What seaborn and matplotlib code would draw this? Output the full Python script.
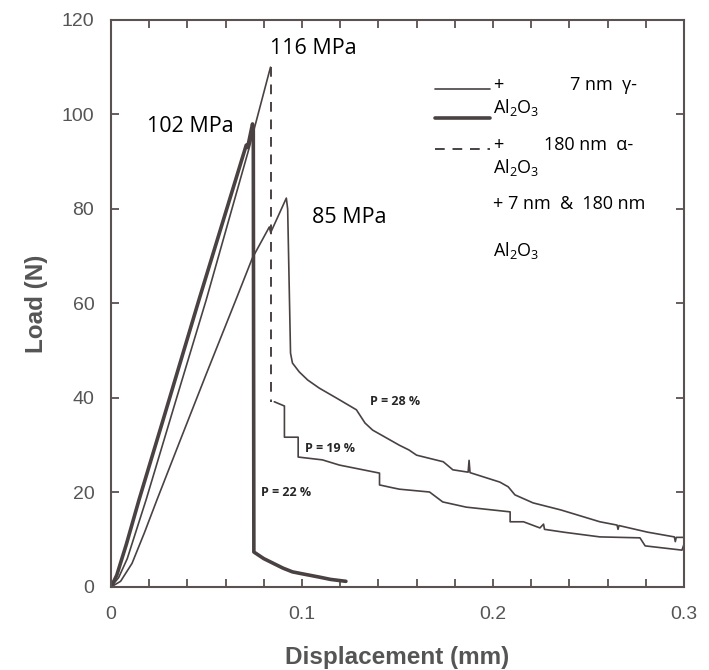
import numpy as np
import pandas as pd
import matplotlib
matplotlib.use("Agg")
import matplotlib.pyplot as plt
import seaborn as sns

# 7 nm gamma-Al2O3 (thin solid, 85 MPa, P = 28 %)
gamma_x = [0, 0.005, 0.011, 0.0175, 0.0241, 0.0357, 0.0498, 0.0656, 0.074, 0.0829, 0.0836,
           0.0918, 0.0925, 0.094, 0.095, 0.0986, 0.103, 0.109, 0.118, 0.1285, 0.133, 0.137, 0.151,
           0.156, 0.160, 0.174, 0.179, 0.187, 0.1875, 0.188, 0.2036, 0.208, 0.2115, 0.221, 0.2356,
           0.256, 0.265, 0.2655, 0.266, 0.281, 0.295, 0.2955, 0.296, 0.3]
gamma_y = [0, 1.2, 5, 11.5, 18.5, 30.5, 45, 61, 69.6, 76.2, 75,
           82.3, 80, 49.5, 47.4, 45.5, 43.8, 42.1, 40, 37.5, 34.7, 33.2, 30,
           29, 27.9, 26.5, 24.8, 24.3, 26.8, 24.2, 22.2, 21.2, 19.5, 17.8, 16.3,
           13.8, 13.1, 12.2, 13, 11.6, 10.6, 9.6, 10.5, 10.5]

# 180 nm alpha-Al2O3 (116 MPa, P = 19 %): rise, dashed drop, stepped tail
alpha_rise_x = [0, 0.004, 0.0085, 0.0184, 0.0336, 0.0498, 0.0724, 0.0835]
alpha_rise_y = [0, 2, 6, 18.5, 39, 60.7, 93, 110]
alpha_drop_x = [0.0837, 0.0837]
alpha_drop_y = [110, 39.2]
alpha_tail_x = [0.0855, 0.0908, 0.0908, 0.098, 0.098, 0.1107, 0.1196, 0.1406, 0.1406, 0.1474,
                0.151, 0.1668, 0.1737, 0.186, 0.209, 0.209, 0.216, 0.2246, 0.2265, 0.227,
                0.237, 0.256, 0.277, 0.2797, 0.299, 0.3]
alpha_tail_y = [39.2, 38.3, 31.7, 31.7, 27.5, 26.9, 25.8, 24.1, 21.6, 21,
                20.7, 20.1, 18, 16.9, 15.9, 13.8, 13.8, 12.5, 13.3, 12.2,
                11.6, 10.6, 10.4, 8.7, 7.8, 9]

# 7 nm + 180 nm Al2O3 (thick, 102 MPa, P = 22 %)
mixed_x = [0, 0.003, 0.008, 0.0147, 0.027, 0.046, 0.0708, 0.0715, 0.0741, 0.0745, 0.0748,
           0.08, 0.09, 0.095, 0.1, 0.109, 0.115, 0.123]
mixed_y = [0, 2.5, 9, 18.5, 35, 60.7, 93.5, 93, 98, 97, 7.4,
           6, 4, 3.2, 2.8, 2.1, 1.6, 1.2]

sns.set_style("ticks")
plt.rcParams['font.family'] = ['Open Sans', 'DejaVu Sans']
plt.rcParams['mathtext.fontset'] = 'custom'
plt.rcParams['mathtext.rm'] = 'Open Sans'
plt.rcParams['mathtext.it'] = 'Open Sans'
plt.rcParams['mathtext.bf'] = 'Open Sans:bold'

ink = "#4a4242"
spine = "#5a5250"
grey_txt = "#555555"

fig = plt.figure(figsize=(7.09, 6.70), dpi=100)
ax = fig.add_axes([0.1566, 0.1239, 0.808, 0.8463])

sns.lineplot(x=gamma_x, y=gamma_y, ax=ax, color=ink, lw=1.2, sort=False, estimator=None)
sns.lineplot(x=alpha_rise_x, y=alpha_rise_y, ax=ax, color=ink, lw=1.2, sort=False, estimator=None)
sns.lineplot(x=alpha_drop_x, y=alpha_drop_y, ax=ax, color=ink, lw=1.4, sort=False, estimator=None,
             linestyle=(0, (5, 4)))
sns.lineplot(x=alpha_tail_x, y=alpha_tail_y, ax=ax, color=ink, lw=1.2, sort=False, estimator=None)
sns.lineplot(x=mixed_x, y=mixed_y, ax=ax, color=ink, lw=2.6, sort=False, estimator=None)

ax.set_xlim(0, 0.3)
ax.set_ylim(0, 120)
ax.set_xticks([0, 0.1, 0.2, 0.3])
ax.set_xticklabels(["0", "0.1", "0.2", "0.3"])
ax.set_xticks(np.arange(0, 0.301, 0.02), minor=True)
ax.set_yticks(np.arange(0, 121, 20))
for s in ax.spines.values():
    s.set_visible(True)
    s.set_color(spine)
    s.set_linewidth(1.5)
ax.tick_params(which="both", direction="in", length=6, width=1.3, color=spine,
               top=True, right=True)
ax.tick_params(axis="x", which="major", pad=14, labelsize=14, labelcolor=grey_txt)
ax.tick_params(axis="y", which="major", pad=12, labelsize=14, labelcolor=grey_txt)
for lab in ax.get_xticklabels() + ax.get_yticklabels():
    lab.set_family("Liberation Sans")

ax.set_xlabel("Displacement (mm)", fontsize=17.5, fontweight="bold", color=grey_txt,
              family="Liberation Sans", labelpad=16)
ax.set_ylabel("Load (N)", fontsize=17.5, fontweight="bold", color=grey_txt,
              family="Liberation Sans", labelpad=10)

# strength labels
ax.text(0.083, 114, "116 MPa", fontsize=15.5, va="center", ha="left", color="black")
ax.text(0.019, 97.4, "102 MPa", fontsize=15.5, va="center", ha="left", color="black")
ax.text(0.1055, 78.3, "85 MPa", fontsize=15.5, va="center", ha="left", color="black")

# porosity labels
ax.text(0.1354, 39.2, "P = 28 %", fontsize=9, fontweight="bold", va="center", ha="left")
ax.text(0.1018, 29.4, "P = 19 %", fontsize=9, fontweight="bold", va="center", ha="left")
ax.text(0.0787, 19.9, "P = 22 %", fontsize=9, fontweight="bold", va="center", ha="left")

# hand-drawn key
tr = ax.transAxes
ax.plot([0.565, 0.661], [0.878, 0.878], color=ink, lw=1.2, transform=tr)
ax.plot([0.565, 0.661], [0.827, 0.827], color=ink, lw=2.6, transform=tr)
ax.plot([0.565, 0.661], [0.772, 0.772], color=ink, lw=1.4, linestyle=(0, (5, 4)), transform=tr)
kw = dict(transform=tr, fontsize=13, va="center", ha="left", color="black")
ax.text(0.667, 0.885, "+", **kw)
ax.text(0.801, 0.885, "7 nm  γ-", **kw)
ax.text(0.667, 0.845, r"Al$_2$O$_3$", **kw)
ax.text(0.667, 0.780, "+", **kw)
ax.text(0.756, 0.780, "180 nm  α-", **kw)
ax.text(0.667, 0.739, r"Al$_2$O$_3$", **kw)
ax.text(0.667, 0.675, "+ 7 nm  &  180 nm", **kw)
ax.text(0.667, 0.594, r"Al$_2$O$_3$", **kw)

fig.savefig("out.png", dpi=100)
